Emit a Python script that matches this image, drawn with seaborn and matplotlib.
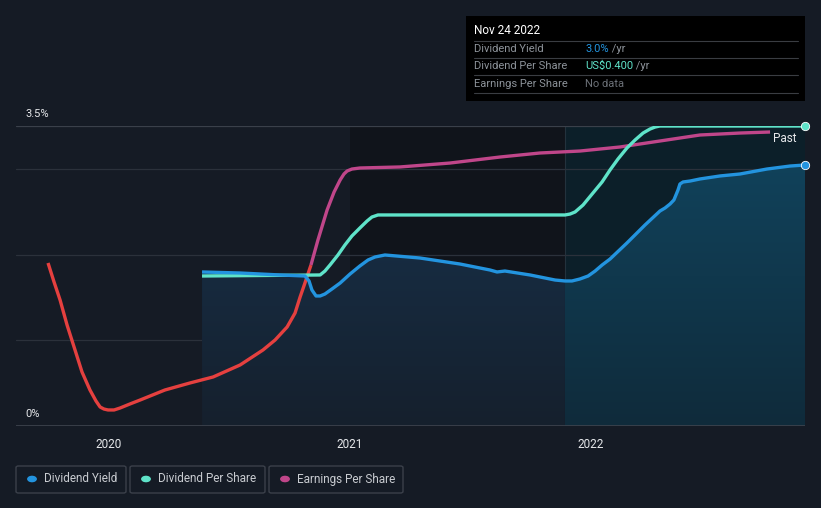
import numpy as np
import pandas as pd
import matplotlib
matplotlib.use("Agg")
import matplotlib.pyplot as plt
import seaborn as sns
from matplotlib.patches import FancyBboxPatch, Rectangle
from matplotlib.colors import LinearSegmentedColormap

# ---------------- data (decimal years, values in chart units) ----------------
dy_x = [2020.386, 2020.544, 2020.710, 2020.813, 2020.830, 2020.842, 2020.859, 2020.876,
        2020.896, 2020.925, 2020.959, 2021.000, 2021.041, 2021.075, 2021.104, 2021.145,
        2021.290, 2021.456, 2021.581, 2021.610, 2021.643, 2021.747, 2021.851, 2021.892,
        2021.921, 2021.954, 2021.988, 2022.017, 2022.046, 2022.079, 2022.149, 2022.224,
        2022.286, 2022.307, 2022.328, 2022.344, 2022.361, 2022.369, 2022.382, 2022.411,
        2022.452, 2022.535, 2022.618, 2022.730, 2022.826, 2022.888]
dy_y = [1.797, 1.785, 1.762, 1.750, 1.692, 1.587, 1.517, 1.517,
        1.540, 1.598, 1.668, 1.773, 1.867, 1.937, 1.972, 1.995,
        1.960, 1.890, 1.820, 1.797, 1.808, 1.762, 1.703, 1.692,
        1.692, 1.715, 1.750, 1.808, 1.878, 1.948, 2.135, 2.345,
        2.508, 2.543, 2.590, 2.637, 2.753, 2.823, 2.847, 2.858,
        2.882, 2.917, 2.940, 2.998, 3.033, 3.045]

dps_x = [2020.386, 2020.876, 2020.896, 2020.917, 2020.950, 2020.979, 2021.008, 2021.041,
         2021.071, 2021.091, 2021.116, 2021.145, 2021.892, 2021.913, 2021.934, 2021.967,
         2022.008, 2022.046, 2022.079, 2022.112, 2022.149, 2022.183, 2022.216, 2022.245,
         2022.266, 2022.286, 2022.888]
dps_y = [1.750, 1.762, 1.808, 1.878, 1.995, 2.112, 2.217, 2.310,
         2.392, 2.438, 2.462, 2.462, 2.462, 2.473, 2.497, 2.578,
         2.718, 2.847, 2.987, 3.115, 3.243, 3.337, 3.418, 3.465,
         3.488, 3.500, 3.500]

eps_x = [2019.747, 2019.772, 2019.797, 2019.826, 2019.859, 2019.888, 2019.921, 2019.946,
         2019.963, 2019.979, 2019.996, 2020.021, 2020.046, 2020.087, 2020.129, 2020.232,
         2020.336, 2020.432, 2020.544, 2020.639, 2020.689, 2020.739, 2020.772, 2020.793,
         2020.813, 2020.838,
         2020.867, 2020.905, 2020.934, 2020.959, 2020.975, 2020.988, 2021.008, 2021.041,
         2021.207, 2021.415, 2021.622, 2021.788, 2021.954, 2022.120, 2022.286, 2022.452,
         2022.618, 2022.743]
eps_y = [1.902, 1.680, 1.470, 1.178, 0.887, 0.630, 0.420, 0.292,
         0.222, 0.198, 0.187, 0.187, 0.210, 0.257, 0.303, 0.420,
         0.502, 0.572, 0.712, 0.887, 1.003, 1.155, 1.318, 1.505,
         1.668, 1.878,
         2.170, 2.520, 2.730, 2.870, 2.940, 2.975, 2.998, 3.010,
         3.022, 3.068, 3.138, 3.185, 3.208, 3.255, 3.325, 3.395,
         3.418, 3.430]
eps_split = 25  # index where line turns from red to magenta

year_ticks = [2020, 2021, 2022]
year_labels = ["2020", "2021", "2022"]
y_labels = ["0%", "3.5%"]
legend_names = ["Dividend Yield", "Dividend Per Share", "Earnings Per Share"]

tooltip_date = "Nov 24 2022"
tooltip_rows = [("Dividend Yield", "3.0%", " /yr"),
                ("Dividend Per Share", "US$0.400", " /yr"),
                ("Earnings Per Share", "No data", "")]

# ---------------- style ----------------
BG = "#151b25"
BLUE = "#2394df"
TEAL = "#5fe3c9"
MAG = "#c0468a"
RED = "#e5403f"
sns.set_theme(style="dark")
plt.rcParams["font.family"] = ["Roboto", "DejaVu Sans"]

W, H = 821, 508
fig = plt.figure(figsize=(W / 100, H / 100), dpi=100, facecolor=BG)
ax = fig.add_axes([16 / W, 1 - 426 / H, (805 - 16) / W, (426 - 126) / H])
ax.set_facecolor(BG)
x0 = 2020 + (16 - 109) / 241
x1 = 2020 + (805 - 109) / 241
ax.set_xlim(x0, x1)
ax.set_ylim(0, 3.5)
for s in ax.spines.values():
    s.set_visible(False)

# background bands
x_2021 = 2021.0
x_past = 2021.892
ax.axvspan(x_2021, x_past, color="#10141b", zorder=0, lw=0)
ax.axvspan(x_past, x1, color="#0c1f29", zorder=0, lw=0)
ax.axvline(x_past, color="#23323d", lw=0.8, zorder=1)

# gridlines
for g in [1.0, 2.0, 3.0, 3.5]:
    ax.axhline(g, color="#2b313b" if g != 3.5 else "#3a404a", lw=0.9, zorder=1)
ax.axhline(0, color="#3e444e", lw=1.2, zorder=5)

# gradient fill under dividend yield
dx = np.array(dy_x)
dyv = np.array(dy_y)
grad = np.linspace(0, 1, 256).reshape(-1, 1)
cm1 = LinearSegmentedColormap.from_list("a", ["#15202d", "#183450"])
cm2 = LinearSegmentedColormap.from_list("b", ["#0f2b3b", "#11455f"])
mask_left = dx <= x_past + 1e-9
mask_right = dx >= x_past - 1e-9
for m, cm, xa, xb in [(mask_left, cm1, dx[0], x_past), (mask_right, cm2, x_past, x1)]:
    im = ax.imshow(grad, extent=[xa, xb, 0, 3.5], origin="lower", aspect="auto",
                   cmap=cm, zorder=2)
    poly = ax.fill_between(dx[m], dyv[m], 0, color="none", lw=0)
    path = poly.get_paths()[0]
    im.set_clip_path(path, transform=ax.transData)

# lines
df_dy = pd.DataFrame({"x": dy_x, "y": dy_y})
df_dps = pd.DataFrame({"x": dps_x, "y": dps_y})
df_eps_r = pd.DataFrame({"x": eps_x[:eps_split + 1], "y": eps_y[:eps_split + 1]})
df_eps_m = pd.DataFrame({"x": eps_x[eps_split:], "y": eps_y[eps_split:]})
kw = dict(lw=2.4, sort=False, solid_joinstyle="round", solid_capstyle="butt")
sns.lineplot(data=df_eps_r, x="x", y="y", ax=ax, color=RED, zorder=6, **kw)
sns.lineplot(data=df_eps_m, x="x", y="y", ax=ax, color=MAG, zorder=6, **kw)
sns.lineplot(data=df_dps, x="x", y="y", ax=ax, color=TEAL, zorder=7, **kw)
sns.lineplot(data=df_dy, x="x", y="y", ax=ax, color=BLUE, zorder=8, **kw)
ax.plot([dps_x[-1]], [dps_y[-1]], "o", ms=6, color=TEAL, mec="white", mew=0.6, zorder=9, clip_on=False)
ax.plot([dy_x[-1]], [dy_y[-1]], "o", ms=6, color=BLUE, mec="white", mew=0.6, zorder=9, clip_on=False)

ax.set_xlabel("")
ax.set_ylabel("")
ax.set_xticks(year_ticks)
ax.set_xticklabels(year_labels, color="#e6e8eb", fontsize=8.5)
ax.tick_params(axis="x", length=5, color="#3e444e", pad=4, width=1)
ax.set_yticks([])
ax.grid(False)

# y labels
fig.text(25 / W, 1 - 114 / H, y_labels[1], color="#e6e8eb", fontsize=8, va="center", ha="left")
fig.text(25 / W, 1 - 414 / H, y_labels[0], color="#e6e8eb", fontsize=8, va="center", ha="left")
fig.text(773 / W, 1 - 138 / H, "Past", color="#e6e8eb", fontsize=8.5, va="center", ha="left")

# tooltip
fig.patches.append(Rectangle((466 / W, 1 - 101 / H), (805 - 466) / W, 85 / H,
                             transform=fig.transFigure, facecolor="#000000", edgecolor="none", zorder=10))
fig.text(474 / W, 1 - 31 / H, tooltip_date, color="white", fontsize=8.5, va="center", zorder=11)
for yy in [41, 58, 75, 93]:
    fig.lines.append(plt.Line2D([474 / W, 798 / W], [1 - yy / H] * 2, transform=fig.transFigure,
                                color="#3a3d42", lw=0.8, zorder=11))
val_colors = [BLUE, TEAL, "#6c7178"]
for i, (lab, val, suf) in enumerate(tooltip_rows):
    yy = 1 - [49, 66, 84][i] / H
    fig.text(474 / W, yy, lab, color="#8d939a", fontsize=8, va="center", zorder=11)
    t = fig.text(585 / W, yy, val, color=val_colors[i], fontsize=8, va="center", zorder=11)
    if suf:
        fig.canvas.draw()
        bb = t.get_window_extent()
        fig.text(bb.x1 / W, yy, suf, color="#8d939a", fontsize=8, va="center", zorder=11)

# legend boxes
boxes = [(16, 126), (130, 265), (269, 403)]
cols = [BLUE, TEAL, MAG]
for (a, b), name, c in zip(boxes, legend_names, cols):
    fig.patches.append(FancyBboxPatch((a / W, 1 - 493 / H), (b - a) / W, 27 / H,
                                      boxstyle="round,pad=0,rounding_size=0.003",
                                      transform=fig.transFigure, facecolor=BG,
                                      edgecolor="#3b404a", lw=1))
    fig.patches.append(plt.Circle(((a + 16) / W, 1 - 479 / H), 4.2 / W, transform=fig.transFigure,
                                  color=c))
    fig.text((a + 28) / W, 1 - 479 / H, name, color="#c9ccd1", fontsize=8.5, va="center")

fig.savefig("out.png", dpi=100, facecolor=BG)
